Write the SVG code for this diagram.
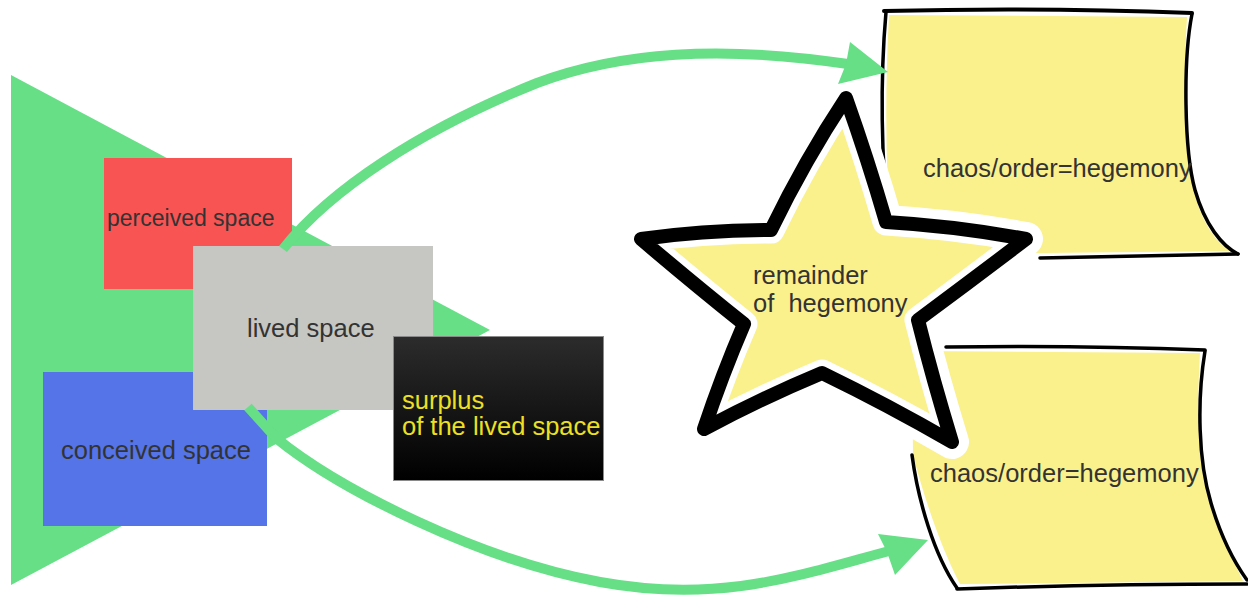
<svg xmlns="http://www.w3.org/2000/svg" width="1248" height="595" viewBox="0 0 1248 595">
  <defs>
    <style>
      .lbl { font-family: "Liberation Sans", Arial, sans-serif; fill: #333333; }
      .big { font-size: 25.5px; }
      .arrow { fill: none; stroke: #66df87; stroke-width: 10; stroke-linecap: butt; stroke-linejoin: round; }
      .head { fill: #66df87; }
      .ink { fill: none; stroke: #000; stroke-linecap: round; stroke-linejoin: round; }
      .note { fill: #faf08c; }
    </style>
    <linearGradient id="blackGrad" x1="0" y1="0" x2="0" y2="1">
      <stop offset="0" stop-color="#2c2c2c"/>
      <stop offset="1" stop-color="#000000"/>
    </linearGradient>
    <path id="starPath" d="M846,98 Q805,160 771,230 Q705,230 641,239 Q695,285 744,324 Q722,375 704,429 Q762,398 822,373 Q888,405 952,442 Q933,380 918,320 Q972,280 1026,239 Q955,226 886,222 Q868,160 846,98 Z"/>
    <clipPath id="starClip">
      <use href="#starPath"/>
    </clipPath>
  </defs>

  <rect width="1248" height="595" fill="#ffffff"/>

  <g id="background-triangle">
    <polygon points="11,75 11,585 490,330" fill="#66df87"/>
  </g>

  <g id="perceived-space">
    <rect x="104" y="158" width="188" height="131" fill="#f85454"/>
    <text class="lbl" x="107" y="226" font-size="23">perceived space</text>
  </g>

  <g id="conceived-space">
    <rect x="43" y="372" width="224" height="154" fill="#5474e8"/>
    <text class="lbl big" x="61" y="459">conceived space</text>
  </g>

  <g id="lived-space">
    <rect x="193" y="246" width="240" height="164" fill="#c6c6c2"/>
    <text class="lbl big" x="247" y="337">lived space</text>
  </g>

  <g id="surplus">
    <rect x="393.5" y="336.5" width="210" height="144" fill="url(#blackGrad)" stroke="#8a8a8a" stroke-width="1"/>
    <text class="big" x="402" y="409" fill="#ede023" font-family="Liberation Sans, Arial, sans-serif">surplus</text>
    <text class="big" x="402" y="435" fill="#ede023" font-family="Liberation Sans, Arial, sans-serif">of the lived space</text>
  </g>

  <g id="note-top">
    <path class="note" d="M889,15 L1187,17 C1183,80 1185,160 1198,205 C1208,233 1222,248 1234,251 L1040,253 L892,250 C885,170 885,90 889,15 Z"/>
    <path class="ink" stroke-width="4" d="M884,11 Q1040,7 1192,13"/>
    <path class="ink" stroke-width="3.5" d="M886,12 C880,80 881,160 889,228"/>
    <path class="ink" stroke-width="3.5" d="M1192,14 C1183,60 1184,150 1195,190 C1205,225 1222,246 1238,254"/>
    <path class="ink" stroke-width="3.5" d="M1040,258 L1238,254"/>
    <text class="lbl big" x="923" y="177">chaos/order=hegemony</text>
  </g>

  <g id="note-bottom">
    <path class="note" d="M912,351 L1200,353 C1196,420 1199,475 1213,512 C1224,542 1234,562 1243,581 L960,584 C940,545 925,500 913,455 Z"/>
    <path class="ink" stroke-width="3.5" d="M946,347 Q1080,345 1205,350"/>
    <path class="ink" stroke-width="3.5" d="M1205,351 C1197,400 1198,460 1211,503 C1221,537 1234,562 1247,580"/>
    <path class="ink" stroke-width="3.5" d="M957,589 Q1100,584 1247,584"/>
    <path class="ink" stroke-width="3.5" d="M912,455 C918,500 934,555 957,588"/>
    <text class="lbl big" x="930" y="482">chaos/order=hegemony</text>
  </g>

  <g id="star">
    <use href="#starPath" fill="none" stroke="#ffffff" stroke-width="34" stroke-linejoin="round"/>
    <use href="#starPath" fill="#faf08c"/>
    <use href="#starPath" fill="none" stroke="#ffffff" stroke-width="27" stroke-linejoin="round" clip-path="url(#starClip)"/>
    <use href="#starPath" fill="none" stroke="#000000" stroke-width="14" stroke-linejoin="round"/>
    <text class="lbl big" x="753" y="284">remainder</text>
    <text class="lbl big" x="753" y="312" style="white-space:pre" xml:space="preserve">of  hegemony</text>
  </g>

  <g id="connectors">
    <path class="arrow" d="M283,249 C330,190 420,130 537,83 C620,52 720,45 848,64"/>
    <polygon class="head" points="850,42 888,72 838,84 846,64"/>
    <path class="arrow" d="M248,407 L276,438 C340,490 480,560 600,582 S800,575 889,551"/>
    <polygon class="head" points="878,534 928,540 895,575 887,552"/>
  </g>
</svg>
